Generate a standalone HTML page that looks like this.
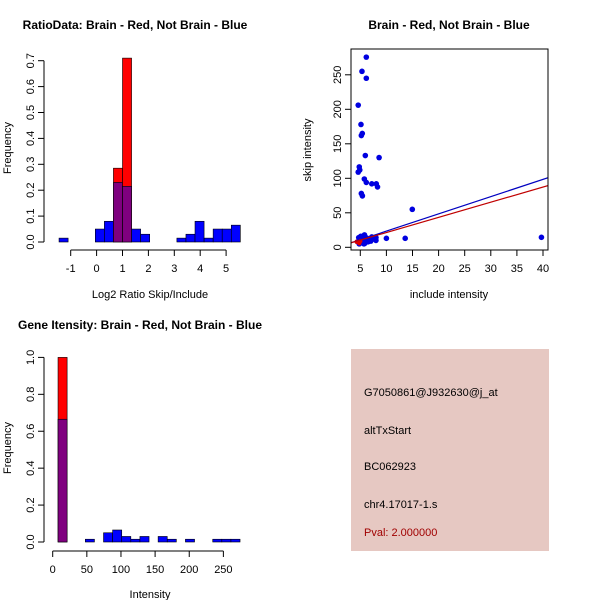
<!DOCTYPE html>
<html><head><meta charset="utf-8"><style>
html,body{margin:0;padding:0;background:#fff;}
svg{display:block;font-family:"Liberation Sans",sans-serif;}
</style></head><body>
<svg id="chart" width="600" height="600" viewBox="0 0 600 600" xmlns="http://www.w3.org/2000/svg">
<rect x="0" y="0" width="600" height="600" fill="#fff"/>
<g id="p1"></g>
<g id="p2"></g>
<g id="p3"></g>
<g id="p4">
<rect x="351" y="349" width="198" height="202" fill="#e6c8c2"/>
<text x="364" y="396" font-size="11" fill="#000">G7050861@J932630@j_at</text>
<text x="364" y="434" font-size="11" fill="#000">altTxStart</text>
<text x="364" y="470" font-size="11" fill="#000">BC062923</text>
<text x="364" y="508" font-size="11" fill="#000">chr4.17017-1.s</text>
<text x="364" y="536" font-size="11" fill="#a00000">Pval: 2.000000</text>
</g>
</svg>
<script>
// Panel 1 data
const ratioBinStart = -1.45;
const ratioBinWidth = 0.35;
const ratioBlue = [0.015,0,0,0,0.05,0.08,0.23,0.215,0.05,0.03,0,0,0,0.015,0.03,0.08,0.015,0.05,0.05,0.065];
const ratioRed  = [0,0,0,0,0,0,0.285,0.71,0,0,0,0,0,0,0,0,0,0,0,0];
const ratioXTicks = [-1,0,1,2,3,4,5];
const ratioYTicks = ["0.0","0.1","0.2","0.3","0.4","0.5","0.6","0.7"];
// Panel 2 data
const scatX = [6.15,5.32,6.15,4.6,5.13,5.38,5.2,5.96,8.6,4.8,4.9,4.6,5.77,6.15,7.2,8.06,8.3,5.2,5.4,14.96,10,13.6,39.7,
  4.5,5,5.5,5.8,6,6.3,6.8,7.2,7.8,8,4.8,5.3,5.7,6.5,7,5.1,6.1,4.7,5.6,8,6.6,7.5,5.9];
const scatY = [275.6,255,245,206,178,165,162,133,130,116.5,112,109,99,94,92,92,87.5,78,74.5,55,13,13,14.5,
  8,12,15,18,10,13,12,15,12,10,5,7,5,8,9,16,14,14,9,14,11,13,6];
const redX = [4.3,4.8,5.0];
const redY = [8,6,9];
const blueFit = [-1.55, 2.5];
const redFit = [-0.53, 2.196];
const scatXTicks = [5,10,15,20,25,30,35,40];
const scatYTicks = [0,50,100,150,200,250];
// Panel 3 data
const intBinStart = 7.8;
const intBinWidth = 13.33;
const intBlue = [0.665,0,0,0.015,0,0.05,0.065,0.03,0.015,0.03,0,0.03,0.015,0,0.015,0,0,0.015,0.015,0.015];
const intRed  = [1.0,0,0,0,0,0,0,0,0,0,0,0,0,0,0,0,0,0,0,0];
const intXTicks = [0,50,100,150,200,250];
const intYTicks = ["0.0","0.2","0.4","0.6","0.8","1.0"];

const NS="http://www.w3.org/2000/svg";
function mk(parent,tag,attrs){const e=document.createElementNS(NS,tag);for(const k in attrs)e.setAttribute(k,attrs[k]);parent.appendChild(e);return e;}

function histogram(g,opt){
  const sx=v=>opt.x0+(v-opt.dx0)*opt.kx, sy=v=>opt.y0-v*opt.ky;
  for(let i=0;i<opt.blue.length;i++){
    const l=opt.bs+i*opt.bw, r=l+opt.bw, b=opt.blue[i], rd=opt.red[i];
    const hi=Math.max(b,rd), lo=Math.min(b,rd);
    if(hi<=0) continue;
    const top=mk(g,'rect',{x:sx(l),y:sy(hi),width:sx(r)-sx(l),height:sy(0)-sy(hi),fill:rd>b?'#ff0000':'#0000ff',stroke:'#000','stroke-width':0.6});
    
    
    if(lo>0){
      const p=mk(g,'rect',{x:sx(l),y:sy(lo),width:sx(r)-sx(l),height:sy(0)-sy(lo),fill:'#7f007f',stroke:'#000','stroke-width':0.6});
      
      
    }
  }
  const xa=opt.xTicks;
  const xl=mk(g,'line',{x1:sx(xa[0]),x2:sx(xa[xa.length-1]),y1:opt.axY,y2:opt.axY,stroke:'#000'});
  
  
  xa.forEach(t=>{
    mk(g,'line',{x1:sx(t),x2:sx(t),y1:opt.axY,y2:opt.axY+6,stroke:'#000'});
    const tx=mk(g,'text',{x:sx(t),y:opt.axY+22,'font-size':11,'text-anchor':'middle'});
    tx.textContent=t;
    
    
  });
  const ya=opt.yTicks;
  const yl=mk(g,'line',{x1:opt.axX,x2:opt.axX,y1:sy(0),y2:sy(parseFloat(ya[ya.length-1])),stroke:'#000'});
  
  
  ya.forEach(t=>{
    const v=parseFloat(t);
    mk(g,'line',{x1:opt.axX-6,x2:opt.axX,y1:sy(v),y2:sy(v),stroke:'#000'});
    const tx=mk(g,'text',{x:opt.axX-10,y:sy(v),'font-size':11,'text-anchor':'middle',transform:`rotate(-90 ${opt.axX-10} ${sy(v)})`});
    tx.textContent=t;
    
    
  });
}

const p1=document.getElementById('p1');
histogram(p1,{x0:70.7,dx0:-1,kx:25.9,y0:242,ky:259,bs:ratioBinStart,bw:ratioBinWidth,blue:ratioBlue,red:ratioRed,xTicks:ratioXTicks,yTicks:ratioYTicks,axY:250,axX:44});
let t=mk(p1,'text',{x:135,y:29,'font-size':12,'font-weight':'bold','text-anchor':'middle'});t.textContent='RatioData: Brain - Red, Not Brain - Blue';


t=mk(p1,'text',{x:150,y:298,'font-size':11,'text-anchor':'middle'});t.textContent='Log2 Ratio Skip/Include';


t=mk(p1,'text',{x:11,y:148,'font-size':11,'text-anchor':'middle',transform:'rotate(-90 11 148)'});t.textContent='Frequency';



const p3=document.getElementById('p3');
histogram(p3,{x0:52.7,dx0:0,kx:0.6827,y0:542,ky:184.6,bs:intBinStart,bw:intBinWidth,blue:intBlue,red:intRed,xTicks:intXTicks,yTicks:intYTicks,axY:551,axX:44});
t=mk(p3,'text',{x:140,y:329,'font-size':12,'font-weight':'bold','text-anchor':'middle'});t.textContent='Gene Itensity: Brain - Red, Not Brain - Blue';


t=mk(p3,'text',{x:150,y:598,'font-size':11,'text-anchor':'middle'});t.textContent='Intensity';


t=mk(p3,'text',{x:11,y:448,'font-size':11,'text-anchor':'middle',transform:'rotate(-90 11 448)'});t.textContent='Frequency';



// Scatter
const p2=document.getElementById('p2');
const bx0=351,bx1=548,by0=49,by1=250;
const sx=v=>360.3+(v-5)*5.22, sy=v=>247.3-v*0.69;
const clip=mk(p2,'clipPath',{id:'clipbox'});mk(clip,'rect',{x:bx0,y:by0,width:bx1-bx0,height:by1-by0});
const pts=mk(p2,'g',{'clip-path':'url(#clipbox)'});
scatX.forEach((x,i)=>{const c=mk(pts,'circle',{cx:sx(x),cy:sy(scatY[i]),r:2.8,fill:'#0000e0'});
  
  });
redX.forEach((x,i)=>{const c=mk(pts,'circle',{cx:sx(x),cy:sy(redY[i]),r:2.2,fill:'#e00000'});
  
  });
const xl0=(bx0-360.3)/5.22+5, xl1=(bx1-360.3)/5.22+5;
let ln=mk(pts,'line',{x1:sx(xl0),y1:sy(blueFit[0]+blueFit[1]*xl0),x2:sx(xl1),y2:sy(blueFit[0]+blueFit[1]*xl1),stroke:'#0000c0','stroke-width':1.2});


ln=mk(pts,'line',{x1:sx(xl0),y1:sy(redFit[0]+redFit[1]*xl0),x2:sx(xl1),y2:sy(redFit[0]+redFit[1]*xl1),stroke:'#c00000','stroke-width':1.2});


const box=mk(p2,'rect',{x:bx0,y:by0,width:bx1-bx0,height:by1-by0,fill:'none',stroke:'#000'});


scatXTicks.forEach(v=>{mk(p2,'line',{x1:sx(v),x2:sx(v),y1:by1,y2:by1+6,stroke:'#000'});
  const tx=mk(p2,'text',{x:sx(v),y:by1+22,'font-size':11,'text-anchor':'middle'});tx.textContent=v;
  
  });
scatYTicks.forEach(v=>{mk(p2,'line',{x1:bx0-6,x2:bx0,y1:sy(v),y2:sy(v),stroke:'#000'});
  const tx=mk(p2,'text',{x:bx0-10,y:sy(v),'font-size':11,'text-anchor':'middle',transform:`rotate(-90 ${bx0-10} ${sy(v)})`});tx.textContent=v;
  
  });
t=mk(p2,'text',{x:449,y:29,'font-size':12,'font-weight':'bold','text-anchor':'middle'});t.textContent='Brain - Red, Not Brain - Blue';


t=mk(p2,'text',{x:449,y:298,'font-size':11,'text-anchor':'middle'});t.textContent='include intensity';


t=mk(p2,'text',{x:311,y:150,'font-size':11,'text-anchor':'middle',transform:'rotate(-90 311 150)'});t.textContent='skip intensity';


</script>
</body></html>
